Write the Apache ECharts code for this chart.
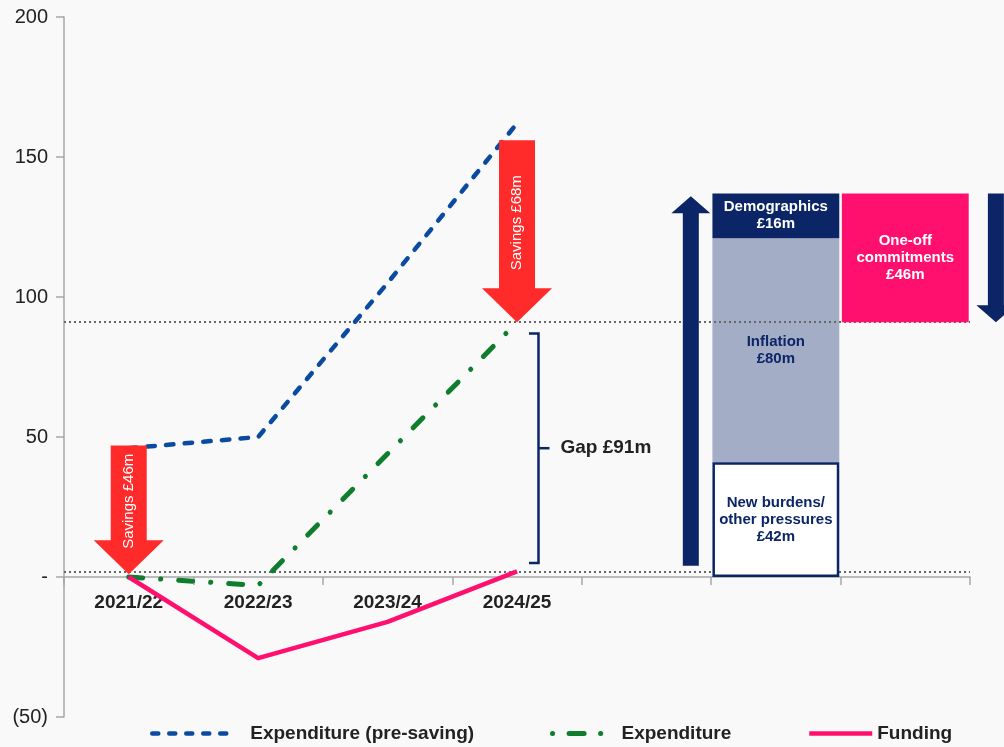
<!DOCTYPE html>
<html>
<head>
<meta charset="utf-8">
<style>
  html, body { margin: 0; padding: 0; background: #f9f9f9; }
  #chart { width: 1004px; height: 747px; }
</style>
<script src="https://cdn.jsdelivr.net/npm/echarts@6/dist/echarts.min.js"></script>
</head>
<body>
<div id="chart"></div>
<script>
// x categories: four years, then the movement arrow, pressures and one-off columns
const categories = ['2021/22', '2022/23', '2023/24', '2024/25', 'Movement', 'Pressures', 'One-off'];

// line series (£m)
const preSaving = [46, 50, 105, 162];
const expenditure = [0, -3, 44, 91];
const funding = [0, -29, -16, 2];

// waterfall of pressures (drawn heights, £m)
const pressureLabels = ['New burdens/\nother pressures\n£42m', 'Inflation\n£80m', 'Demographics\n£16m'];
const pressureValues = [41, 80, 16];
const oneOffBase = 91;
const oneOffValue = 46;
const oneOffLabel = 'One-off\ncommitments\n£46m';

// red savings arrows
const savingsCat = [0, 3];
const savingsFrom = [47, 156];
const savingsTo = [1, 91];
const savingsLabels = ['Savings £46m', 'Savings £68m'];

// navy arrows
const moveCat = [4, 6];
const moveFrom = [4, 137];
const moveTo = [136, 91];

// gap bracket and dotted reference lines
const gapCat = [3];
const gapFrom = [5];
const gapTo = [87];
const gapLabels = ['Gap £91m'];
const refLines = [91, 2];

const NAVY = '#0b2566';
const BLUE = '#0a4aa0';
const GREEN = '#0e7d2c';
const PINK = '#ff0f6e';
const RED = '#ff2a2a';
const FONT = '"Liberation Sans", Arial, sans-serif';

function colData(idx, v) {
  return categories.map((c, i) => (i === idx ? v : '-'));
}

let myChart = echarts.init(document.getElementById('chart'));

const barLabel = (txt, color) => ({
  show: true,
  position: 'inside',
  formatter: () => txt,
  color: color,
  fontFamily: FONT,
  fontWeight: 'bold',
  fontSize: 15,
  lineHeight: 17
});

const legendText = (pad) => ({
  color: '#222',
  fontFamily: FONT,
  fontWeight: 'bold',
  fontSize: 19,
  padding: [0, 0, 0, pad]
});

myChart.setOption({
  backgroundColor: '#f9f9f9',
  animation: false,
  grid: { left: 64, right: 34, top: 17, bottom: 30 },
  legend: [
    {
      data: ['Expenditure (pre-saving)'], left: 150, top: 724, padding: 0,
      itemWidth: 83, itemHeight: 14, textStyle: legendText(10),
      itemStyle: { opacity: 0 },
      lineStyle: { type: [6, 11], width: 4.5, cap: 'round' }
    },
    {
      data: ['Expenditure'], left: 550, top: 724, padding: 0,
      itemWidth: 52, itemHeight: 14, textStyle: legendText(12),
      itemStyle: { opacity: 0 },
      lineStyle: { type: [0.1, 16.5, 15, 16.5], width: 5, cap: 'round' }
    },
    {
      data: ['Funding'], left: 807, top: 724, padding: 0,
      itemWidth: 63, itemHeight: 14, textStyle: legendText(0),
      itemStyle: { opacity: 0 },
      lineStyle: { width: 4.5 }
    }
  ],
  xAxis: {
    type: 'category',
    data: categories,
    boundaryGap: true,
    offset: -140,
    axisLine: { onZero: false, lineStyle: { color: '#a6a6a6', width: 1.5 } },
    axisTick: { show: true, length: 8, interval: 0, lineStyle: { color: '#a6a6a6', width: 1.5 } },
    axisLabel: {
      interval: 0,
      margin: 16,
      formatter: (v, i) => (i < 4 ? v : ''),
      color: '#222',
      fontFamily: FONT,
      fontWeight: 'bold',
      fontSize: 19
    }
  },
  yAxis: {
    type: 'value',
    min: -50,
    max: 200,
    interval: 50,
    splitLine: { show: false },
    axisLine: { show: true, lineStyle: { color: '#a6a6a6', width: 1.5 } },
    axisTick: { show: true, length: 8, lineStyle: { color: '#a6a6a6', width: 1.5 } },
    axisLabel: {
      margin: 16,
      color: '#222',
      fontFamily: FONT,
      fontSize: 20,
      formatter: v => (v === 0 ? '-' : v < 0 ? '(' + (-v) + ')' : String(v))
    }
  },
  series: [
    // waterfall columns
    {
      name: 'base', type: 'bar', stack: 'wf', barWidth: '98%', silent: true, z: 1,
      itemStyle: { color: 'transparent' },
      data: colData(6, oneOffBase)
    },
    {
      name: 'New burdens', type: 'bar', stack: 'wf', barWidth: '98%', silent: true, z: 3,
      itemStyle: { color: '#ffffff', borderColor: NAVY, borderWidth: 2.5 },
      label: barLabel(pressureLabels[0], NAVY),
      data: colData(5, pressureValues[0])
    },
    {
      name: 'Inflation', type: 'bar', stack: 'wf', barWidth: '98%', silent: true, z: 1,
      itemStyle: { color: '#a3adc6' },
      label: barLabel(pressureLabels[1], NAVY),
      data: colData(5, pressureValues[1])
    },
    {
      name: 'Demographics', type: 'bar', stack: 'wf', barWidth: '98%', silent: true, z: 3,
      itemStyle: { color: NAVY },
      label: barLabel(pressureLabels[2], '#fff'),
      data: colData(5, pressureValues[2])
    },
    {
      name: 'One-off', type: 'bar', stack: 'wf', barWidth: '98%', silent: true, z: 3,
      itemStyle: { color: PINK },
      label: barLabel(oneOffLabel, '#fff'),
      data: colData(6, oneOffValue)
    },
    // lines
    {
      name: 'Expenditure (pre-saving)', type: 'line', symbol: 'none', z: 3,
      lineStyle: { color: BLUE, width: 4.5, type: [7.5, 11.2], cap: 'round', join: 'round' },
      itemStyle: { color: BLUE },
      data: preSaving
    },
    {
      name: 'Expenditure', type: 'line', symbol: 'none', z: 3,
      lineStyle: { color: GREEN, width: 5, type: [14, 18, 0.1, 18], cap: 'round', join: 'round' },
      itemStyle: { color: GREEN },
      data: expenditure
    },
    {
      name: 'Funding', type: 'line', symbol: 'none', z: 3,
      lineStyle: { color: PINK, width: 4.5, join: 'round' },
      itemStyle: { color: PINK },
      data: funding,
      markLine: {
        z: 2,
        silent: true,
        symbol: ['none', 'none'],
        label: { show: false },
        lineStyle: { color: '#666', type: [2, 3], width: 2 },
        data: refLines.map(v => ({ yAxis: v }))
      }
    },
    // red savings arrows
    {
      name: 'savings', type: 'custom', silent: true, z: 4,
      data: savingsCat.map((c, i) => [c, savingsFrom[i], savingsTo[i]]),
      encode: { x: 0, y: [1, 2] },
      renderItem: (params, api) => {
        const top = api.coord([api.value(0), api.value(1)]);
        const tip = api.coord([api.value(0), api.value(2)]);
        const cx = top[0];
        const shaft = 36, head = 70, headH = 34;
        const base = tip[1] - headH;
        return {
          type: 'group',
          children: [
            {
              type: 'polygon',
              shape: { points: [[cx - shaft / 2, top[1]], [cx + shaft / 2, top[1]], [cx + shaft / 2, base], [cx + head / 2, base], [cx, tip[1]], [cx - head / 2, base], [cx - shaft / 2, base]] },
              style: { fill: RED }
            },
            {
              type: 'text',
              x: cx,
              y: (top[1] + (base + tip[1]) / 2) / 2,
              rotation: Math.PI / 2,
              style: {
                text: savingsLabels[params.dataIndex],
                fill: '#fff',
                fontFamily: FONT,
                fontSize: 15,
                align: 'center',
                verticalAlign: 'middle'
              }
            }
          ]
        };
      }
    },
    // navy movement arrows
    {
      name: 'movement', type: 'custom', silent: true, z: 4,
      data: moveCat.map((c, i) => [c, moveFrom[i], moveTo[i]]),
      encode: { x: 0, y: [1, 2] },
      renderItem: (params, api) => {
        const shift = [0.343, 0.70][params.dataIndex];
        const band = api.size([1, 0])[0];
        const start = api.coord([api.value(0), api.value(1)]);
        const tip = api.coord([api.value(0), api.value(2)]);
        const cx = start[0] + band * shift;
        const shaft = 16, head = 39, headH = 17;
        const dir = tip[1] < start[1] ? 1 : -1; // 1 = pointing up
        const base = tip[1] + dir * headH;
        return {
          type: 'polygon',
          shape: { points: [[cx - shaft / 2, start[1]], [cx + shaft / 2, start[1]], [cx + shaft / 2, base], [cx + head / 2, base], [cx, tip[1]], [cx - head / 2, base], [cx - shaft / 2, base]] },
          style: { fill: NAVY }
        };
      }
    },
    // gap bracket
    {
      name: 'gap', type: 'custom', silent: true, z: 4,
      data: gapCat.map((c, i) => [c, gapFrom[i], gapTo[i]]),
      encode: { x: 0, y: [1, 2] },
      renderItem: (params, api) => {
        const bot = api.coord([api.value(0), api.value(1)]);
        const top = api.coord([api.value(0), api.value(2)]);
        const x0 = bot[0] + 12, xv = bot[0] + 21.5, xm = bot[0] + 32.5;
        const mid = (top[1] + bot[1]) / 2;
        return {
          type: 'group',
          children: [
            {
              type: 'polyline',
              shape: { points: [[x0, top[1]], [xv, top[1]], [xv, bot[1]], [x0, bot[1]]] },
              style: { stroke: NAVY, lineWidth: 2.5, fill: null }
            },
            {
              type: 'line',
              shape: { x1: xv, y1: mid, x2: xm, y2: mid },
              style: { stroke: NAVY, lineWidth: 2.5 }
            },
            {
              type: 'text',
              x: bot[0] + 43.5,
              y: mid,
              style: {
                text: gapLabels[params.dataIndex],
                fill: '#222',
                fontFamily: FONT,
                fontWeight: 'bold',
                fontSize: 19,
                align: 'left',
                verticalAlign: 'middle'
              }
            }
          ]
        };
      }
    }
  ]
});

window.onresize = function () {
  myChart.resize();
};
</script>
</body>
</html>
